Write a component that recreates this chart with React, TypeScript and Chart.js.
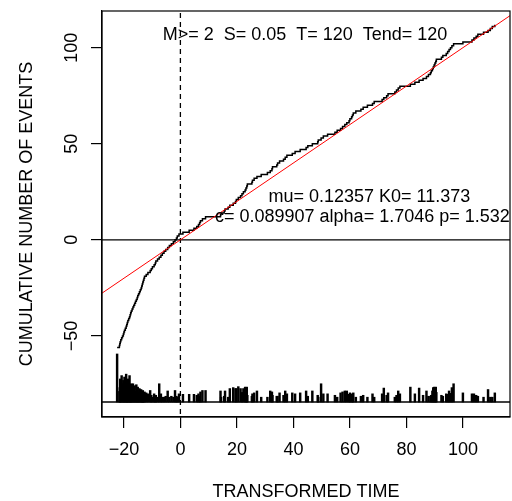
import React, { useEffect, useRef } from "react";
import { Chart, registerables } from "chart.js";

Chart.register(...registerables);

const FONT = '"Liberation Sans", Arial, Helvetica, sans-serif';

// Event times on the transformed time axis
const eventTimes = [
  -22.4, -21.6, -21.45, -21.3, -21.1, -20.8, -20.5, -20.2, -20.0, -19.8,
  -19.5, -19.2, -19.0, -18.8, -18.6, -18.3, -18.0, -17.8, -17.6, -17.4,
  -17.1, -16.8, -16.5, -16.2, -15.9, -15.6, -15.3, -15.1, -14.8, -14.5,
  -14.2, -13.9, -13.7, -13.5, -13.3, -13.1, -12.9, -12.7, -12.1, -11.5,
  -10.7, -10.3, -9.9, -9.3, -8.9, -8.7, -8.1, -7.5, -6.9, -6.4,
  -5.8, -5.2, -4.5, -3.9, -3.2, -2.5, -1.9, -1.4, -1.1, -0.5,
  0.9, 3.1, 4.8, 5.8, 6.4, 6.8, 7.1, 7.8, 8.9, 14.2,
  14.4, 15.5, 15.8, 16.9, 17.5, 18.7, 19.5, 19.8, 20.5, 21.3,
  21.8, 22.3, 22.9, 23.2, 23.5, 23.7, 25.3, 25.5, 26.1, 27.1,
  28.6, 30.8, 31.8, 32.4, 32.6, 34.1, 34.4, 35.1, 36.5, 37.1,
  37.7, 39.6, 40.6, 42.4, 44.5, 45.1, 46.7, 48.6, 48.8, 49.8,
  50.6, 52.1, 54.7, 55.5, 56.7, 57.4, 58.2, 58.9, 59.7, 60.0,
  60.6, 60.9, 61.2, 62.1, 63.9, 64.7, 66.2, 68.0, 68.6, 71.4,
  72.0, 73.0, 73.5, 75.9, 76.5, 77.1, 77.7, 81.4, 83.0, 84.5,
  85.9, 87.1, 87.8, 88.5, 88.8, 89.2, 89.5, 89.8, 90.1, 90.4,
  90.6, 92.4, 92.9, 94.1, 94.6, 95.1, 95.6, 96.1, 96.7, 100.0,
  103.2, 103.9, 104.7, 105.3, 107.3, 108.9, 109.7, 110.4, 111.3,
];

// Magnitudes of the events (bar heights at the bottom)
const eventMags = [
  6.5, 2.6, 3.0, 3.9, 3.2, 4.25, 3.4, 3.75, 3.0, 4.1,
  3.1, 4.4, 3.0, 3.3, 3.9, 2.8, 4.25, 3.0, 2.9, 3.4,
  2.8, 3.4, 2.7, 3.2, 2.6, 3.3, 2.7, 3.05, 2.5, 2.9,
  2.4, 2.8, 2.3, 2.5, 2.7, 2.3, 2.4, 2.55, 2.45, 2.35,
  2.7, 2.2, 2.0, 2.35, 2.1, 2.2, 2.0, 3.4, 2.35, 2.0,
  2.0, 2.1, 2.65, 2.0, 2.1, 2.0, 2.7, 2.1, 2.0, 2.35,
  2.3, 2.3, 2.3, 2.2, 2.35, 2.1, 2.55, 2.7, 2.7, 2.65,
  2.0, 2.1, 2.65, 2.0, 2.9, 3.0, 2.9, 2.9, 3.1, 2.9,
  2.5, 2.9, 3.05, 2.6, 3.05, 2.2, 2.1, 2.35, 2.45, 2.65,
  2.0, 2.0, 2.65, 2.55, 2.2, 2.1, 2.1, 2.45, 2.2, 2.65,
  2.35, 2.45, 2.35, 2.45, 2.65, 2.1, 2.65, 2.2, 2.0, 3.4,
  2.35, 2.35, 2.2, 2.0, 2.45, 2.55, 2.65, 2.65, 2.3, 2.45,
  2.35, 2.3, 2.45, 2.0, 2.1, 2.2, 2.0, 2.35, 2.0, 2.35,
  2.95, 2.2, 2.45, 2.0, 2.2, 2.65, 2.35, 3.05, 2.35, 2.95,
  2.2, 2.65, 2.1, 2.1, 2.2, 2.65, 3.0, 3.05, 3.0, 3.05,
  2.5, 2.2, 2.1, 2.35, 2.3, 2.65, 2.4, 3.0, 3.4, 2.45,
  2.35, 2.35, 2.2, 2.1, 2.0, 2.8, 2.0, 2.0, 2.45,
];

const cumulativeStart = -56; // cumulative count of the first event
const xTickValues = [-20, 0, 20, 40, 60, 80, 100];
const yTickValues = [-50, 0, 50, 100];
const xRange = [-27.75, 116.67];
const yRange = [-92.2, 119.1];
const refLineX = [-30, 120];
const refLineY = [-30, 120];
const magBarBase = -84.4;
const magRef = 1.5;
const magScale = 5;

const headerText = "M>= 2  S= 0.05  T= 120  Tend= 120";
const paramLine1 = "mu= 0.12357 K0= 11.373";
const paramLine2 = "c= 0.089907 alpha= 1.7046 p= 1.532";
const headerPos = [44.1, 106.4];
const param1Pos = [66.9, 22.4];
const param2Pos = [12.25, 12.1];

const fmt = (v: number) => (v < 0 ? "\u2212" + Math.abs(v) : String(v));

const boxPlugin = {
  id: "rbox",
  afterDatasetsDraw(chart: any) {
    const { ctx, chartArea } = chart;
    ctx.save();
    ctx.strokeStyle = "#000";
    ctx.lineWidth = 1.2;
    ctx.strokeRect(chartArea.left, chartArea.top, chartArea.right - chartArea.left, chartArea.bottom - chartArea.top);
    ctx.restore();
  },
};

const textPlugin = {
  id: "rtext",
  afterDatasetsDraw(chart: any) {
    const { ctx, chartArea, scales } = chart;
    const xs = scales.x;
    const ys = scales.y;
    ctx.save();
    ctx.beginPath();
    ctx.rect(chartArea.left, chartArea.top, chartArea.right - chartArea.left, chartArea.bottom - chartArea.top);
    ctx.clip();
    ctx.fillStyle = "#000";
    ctx.font = `18px ${FONT}`;
    ctx.textBaseline = "middle";
    ctx.textAlign = "center";
    ctx.fillText(headerText, xs.getPixelForValue(headerPos[0]), ys.getPixelForValue(headerPos[1]));
    ctx.fillText(paramLine1, xs.getPixelForValue(param1Pos[0]), ys.getPixelForValue(param1Pos[1]));
    ctx.textAlign = "left";
    ctx.fillText(paramLine2, xs.getPixelForValue(param2Pos[0]), ys.getPixelForValue(param2Pos[1]));
    ctx.restore();
  },
};

export default function App() {
  const ref = useRef<HTMLCanvasElement>(null);

  useEffect(() => {
    const cumData = eventTimes.map((t, i) => ({ x: t, y: cumulativeStart + i }));
    const barData = eventTimes.map((t, i) => ({
      x: t,
      y: [magBarBase, magBarBase + (eventMags[i] - magRef) * magScale],
    }));
    const lineCommon = { pointRadius: 0, pointHoverRadius: 0, fill: false, tension: 0 };

    const chart = new Chart(ref.current as HTMLCanvasElement, {
      type: "line",
      data: {
        datasets: [
          {
            ...lineCommon,
            type: "line",
            data: refLineX.map((x, i) => ({ x, y: refLineY[i] })),
            borderColor: "#ff0000",
            borderWidth: 1,
          },
          {
            ...lineCommon,
            type: "line",
            data: cumData,
            stepped: true,
            borderColor: "#000",
            borderWidth: 1.5,
          },
          {
            ...lineCommon,
            type: "line",
            data: [
              { x: -40, y: 0 },
              { x: 130, y: 0 },
            ],
            borderColor: "#000",
            borderWidth: 1.3,
          },
          {
            ...lineCommon,
            type: "line",
            data: [
              { x: 0, y: -100 },
              { x: 0, y: 130 },
            ],
            borderColor: "#000",
            borderWidth: 1.3,
            borderDash: [5, 4],
          },
          {
            ...lineCommon,
            type: "line",
            data: [
              { x: -40, y: magBarBase },
              { x: 130, y: magBarBase },
            ],
            borderColor: "#000",
            borderWidth: 1.3,
          },
          {
            type: "bar",
            data: barData,
            backgroundColor: "#000",
            borderWidth: 0,
            barThickness: 1.8,
            grouped: false,
          },
        ] as any,
      },
      options: {
        responsive: false,
        maintainAspectRatio: false,
        devicePixelRatio: 1,
        animation: false,
        events: [],
        layout: { padding: { top: 11, right: 2, left: 0, bottom: 0 } },
        plugins: {
          legend: { display: false },
          tooltip: { enabled: false },
        },
        scales: {
          x: {
            type: "linear",
            min: xRange[0],
            max: xRange[1],
            offset: false,
            afterBuildTicks: (s: any) => {
              s.ticks = xTickValues.map((v) => ({ value: v }));
            },
            afterFit: (s: any) => {
              s.height = 84;
              s.paddingLeft = 0;
              s.paddingRight = 0;
              s.paddingTop = 0;
              s.paddingBottom = 0;
            },
            ticks: {
              callback: (v: any) => fmt(Number(v)),
              font: { size: 18, family: FONT },
              color: "#000",
              padding: 11,
              minRotation: 0,
              maxRotation: 0,
              autoSkip: false,
            },
            grid: {
              display: true,
              drawOnChartArea: false,
              drawTicks: true,
              tickLength: 11,
              color: "#000",
              lineWidth: 1.2,
              offset: false,
            },
            border: { display: true, color: "#000", width: 1.2 },
            title: {
              display: true,
              text: "TRANSFORMED TIME",
              color: "#000",
              font: { size: 18, family: FONT, lineHeight: 1 },
              padding: { top: 0, bottom: 0 },
            },
          },
          y: {
            type: "linear",
            min: yRange[0],
            max: yRange[1],
            afterBuildTicks: (s: any) => {
              s.ticks = yTickValues.map((v) => ({ value: v }));
            },
            afterFit: (s: any) => {
              s.width = 102;
              s.paddingLeft = 0;
              s.paddingRight = 0;
              s.paddingTop = 0;
              s.paddingBottom = 0;
            },
            ticks: {
              callback: (v: any) => fmt(Number(v)),
              font: { size: 18, family: FONT },
              color: "#000",
              padding: 4,
              minRotation: 90,
              maxRotation: 90,
              crossAlign: "center",
              autoSkip: false,
            },
            grid: {
              display: true,
              drawOnChartArea: false,
              drawTicks: true,
              tickLength: 11,
              color: "#000",
              lineWidth: 1.2,
            },
            border: { display: true, color: "#000", width: 1.2 },
            title: {
              display: true,
              text: "CUMULATIVE NUMBER OF EVENTS",
              color: "#000",
              font: { size: 18, family: FONT, lineHeight: 1 },
              padding: { top: 18, bottom: 0 },
            },
          },
        },
      } as any,
      plugins: [boxPlugin, textPlugin],
    });
    return () => chart.destroy();
  }, []);

  return (
    <div style={{ position: "fixed", left: 0, top: 0, width: 512, height: 501, background: "#fff" }}>
      <canvas ref={ref} width={512} height={501} style={{ display: "block", width: 512, height: 501 }} />
    </div>
  );
}
